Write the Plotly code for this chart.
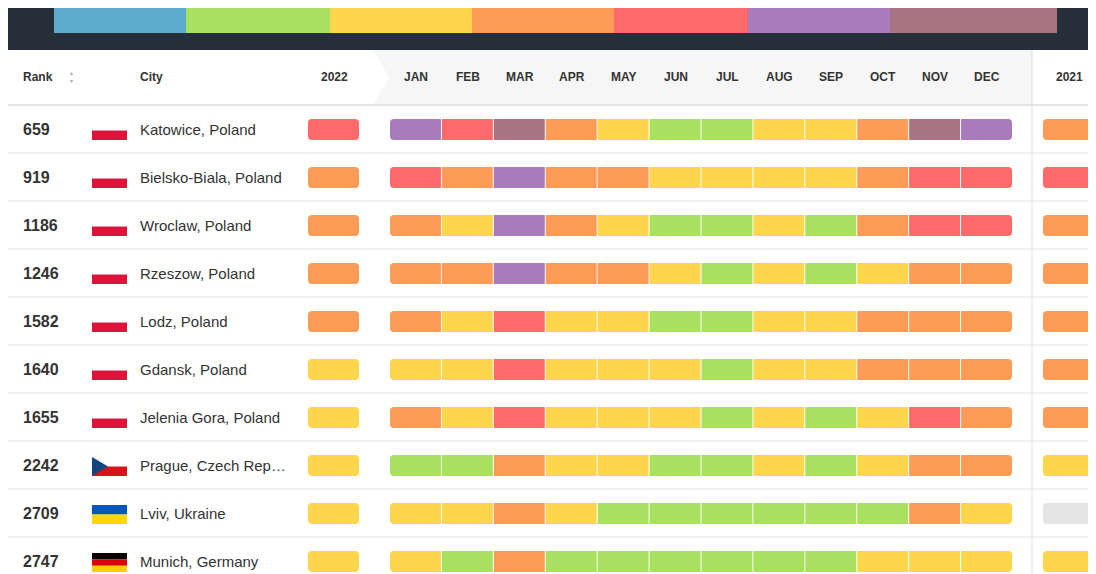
import plotly.graph_objects as go

legend_labels = ['Meets WHO guideline', 'Exceeds by 1 to 2 times', 'Exceeds by 2 to 3 times',
                 'Exceeds by 3 to 5 times', 'Exceeds by 5 to 7 times', 'Exceeds by 7 to 10 times',
                 'Exceeds by over 10 times']
months = ['JAN', 'FEB', 'MAR', 'APR', 'MAY', 'JUN', 'JUL', 'AUG', 'SEP', 'OCT', 'NOV', 'DEC']
ranks = [659, 919, 1186, 1246, 1582, 1640, 1655, 2242, 2709, 2747]
cities = ['Katowice, Poland', 'Bielsko-Biala, Poland', 'Wroclaw, Poland', 'Rzeszow, Poland',
          'Lodz, Poland', 'Gdansk, Poland', 'Jelenia Gora, Poland', 'Prague, Czech Rep…',
          'Lviv, Ukraine', 'Munich, Germany']
flags = ['PL', 'PL', 'PL', 'PL', 'PL', 'PL', 'PL', 'CZ', 'UA', 'DE']
avg_2022 = [25.9, 21.4, 18.7, 18, 15.4, 14.9, 14.8, 11.9, 10.8, 10.7]
avg_2021 = [22.5, 26.4, 19.9, 21.8, 20.2, 16.5, 19.3, 11.3, None, 10.3]
monthly = [
    [35.3, 26.6, 50.8, 21.8, 11.5, 9.4, 7.5, 11.7, 11.1, 24.2, 54.7, 35.2],
    [26, 17.6, 40.6, 21.2, 16.1, 13, 11.8, 13.4, 12.3, 17.2, 32.6, 34.5],
    [24.5, 13.2, 39.2, 16.7, 10.4, 8.9, 7.5, 11, 9.9, 17.1, 34.4, 30.9],
    [24.3, 17.3, 37.2, 19.8, 15.5, 13.1, 8.9, 14.3, 9.6, 11.7, 18.9, 16.2],
    [18.1, 14.6, 25.1, 14.6, 11.5, 9.8, 7.6, 11.8, 10.7, 16.9, 22.3, 21.6],
    [14.2, 11.7, 27.7, 12.3, 11.2, 11.7, 8.2, 12, 10.4, 17, 21.1, 21],
    [17.7, 10.1, 30.2, 13.1, 11.8, 10.4, 8.4, 10.8, 9.8, 13.5, 25.1, 20.8],
    [8.6, 7.1, 20.4, 10.7, 10.8, 9.6, 9.9, 10.1, 7.9, 13.9, 15.8, 17.8],
    [12, 11.7, 19.7, 10.3, 6.7, 7.6, 6.9, 8, 6.8, 9.1, 15.2, 14.8],
    [11, 7.4, 18.8, 9.3, 10, 9.8, 9.7, 10, 7.7, 11.3, 10.3, 13.2],
]

colors = ['#5eaccb', '#a8e05f', '#fdd64b', '#fe9b57', '#fe6a69', '#a97abc', '#a87383']
thresholds = [5, 10, 15, 25, 35, 50]
legend_edges = [46, 178, 322, 464, 606, 740, 882, 1049]
FONT = 'Liberation Sans, Arial'


def color_for(v):
    if v is None:
        return '#e4e4e4'
    for t, c in zip(thresholds, colors):
        if v <= t:
            return c
    return colors[-1]


def fmt(v):
    if v is None:
        return '-'
    return f'{v:g}'


def rpath(x0, x1, y0, y1, rl, rr):
    return (f'M{x0+rl},{y0} L{x1-rr},{y0} Q{x1},{y0} {x1},{y0+rr} L{x1},{y1-rr} '
            f'Q{x1},{y1} {x1-rr},{y1} L{x0+rl},{y1} Q{x0},{y1} {x0},{y1-rl} '
            f'L{x0},{y0+rl} Q{x0},{y0} {x0+rl},{y0} Z')


shapes = []
tx, ty, tt, tc = [], [], [], []

# dark header band and legend
shapes.append(dict(type='rect', x0=0, x1=1096, y0=0, y1=42, fillcolor='#262e3a', line_width=0, layer='below'))
for i, lab in enumerate(legend_labels):
    x0, x1 = legend_edges[i], legend_edges[i + 1]
    shapes.append(dict(type='rect', x0=x0, x1=x1, y0=0, y1=25, fillcolor=colors[i], line_width=0))
    tx.append((x0 + x1) / 2); ty.append(12.5); tt.append(lab)
    tc.append('#3a3a3a' if i < 4 else 'white')

# column header
shapes.append(dict(type='path', path='M365,42 L1024,42 L1024,97 L365,97 L381,69.5 Z',
                   fillcolor='#f6f6f6', line_width=0, layer='below'))
shapes.append(dict(type='line', x0=1024, x1=1024, y0=42, y1=574, line=dict(color='#dddddd', width=1)))
shapes.append(dict(type='line', x0=0, x1=1096, y0=97, y1=97, line=dict(color='#dddddd', width=1.5)))

cell_w = (1005 - 382) / 12
row_h = 48
annotations = []
hdr = dict(showarrow=False, font=dict(family=FONT, size=12, color='#333'), yanchor='middle')
annotations.append(dict(x=13, y=69, text='<b>Rank</b>', xanchor='left', **hdr))
annotations.append(dict(x=63, y=69, text='▴<br>▾', xanchor='center',
                        showarrow=False, font=dict(size=6, color='#aaa')))
annotations.append(dict(x=130, y=69, text='<b>City</b>', xanchor='left', **hdr))
annotations.append(dict(x=326, y=69, text='<b>2022</b>', xanchor='center', **hdr))
annotations.append(dict(x=1061, y=69, text='<b>2021</b>', xanchor='center', **hdr))
for j, m in enumerate(months):
    annotations.append(dict(x=382 + cell_w * (j + 0.5), y=69, text=f'<b>{m}</b>', xanchor='center', **hdr))

for i in range(len(ranks)):
    c = 121 + row_h * i
    if i < len(ranks) - 1:
        shapes.append(dict(type='line', x0=0, x1=1096, y0=c + 24, y1=c + 24,
                           line=dict(color='#e3e3e3', width=1)))
    annotations.append(dict(x=13, y=c, text=f'<b>{ranks[i]}</b>', xanchor='left', showarrow=False,
                            font=dict(family=FONT, size=16, color='#333'), yanchor='middle'))
    annotations.append(dict(x=130, y=c, text=cities[i], xanchor='left', showarrow=False,
                            font=dict(family=FONT, size=15, color='#333'), yanchor='middle'))
    # flag
    fx0, fx1, fy0, fy1 = 84, 119, c - 8, c + 11
    f = flags[i]
    if f == 'PL':
        bands = ['#ffffff', '#dc143c']
    elif f == 'UA':
        bands = ['#0057b7', '#ffd700']
    elif f == 'DE':
        bands = ['#000000', '#dd0000', '#ffce00']
    else:
        bands = ['#ffffff', '#d7141a']
    n = len(bands)
    for k, bc in enumerate(bands):
        shapes.append(dict(type='rect', x0=fx0, x1=fx1, y0=fy0 + (fy1 - fy0) * k / n,
                           y1=fy0 + (fy1 - fy0) * (k + 1) / n, fillcolor=bc, line_width=0))
    if f == 'CZ':
        shapes.append(dict(type='path', path=f'M{fx0},{fy0} L{fx0+16},{(fy0+fy1)/2} L{fx0},{fy1} Z',
                           fillcolor='#11457e', line_width=0))
    # 2022 / 2021 pills
    for xa, v in [(300, avg_2022[i]), (1035, avg_2021[i])]:
        shapes.append(dict(type='path', path=rpath(xa, xa + 51, c - 10, c + 11, 4, 4),
                           fillcolor=color_for(v), line_width=0))
        tx.append(xa + 25.5); ty.append(c + 0.5); tt.append(fmt(v))
        tc.append('white')
    for j, v in enumerate(monthly[i]):
        x0 = 382 + cell_w * j
        x1 = x0 + cell_w - 1
        shapes.append(dict(type='path', path=rpath(x0, x1, c - 10, c + 11,
                                                   4 if j == 0 else 0, 4 if j == 11 else 0),
                           fillcolor=color_for(v), line_width=0))
        tx.append((x0 + x1) / 2); ty.append(c + 0.5); tt.append(fmt(v)); tc.append('white')

fig = go.Figure(go.Scatter(x=tx, y=ty, text=tt, mode='text', textposition='middle center',
                           textfont=dict(family=FONT, size=12, color=tc), hoverinfo='skip'))
fig.update_layout(
    width=1096, height=574, margin=dict(l=0, r=0, t=0, b=0),
    plot_bgcolor='white', paper_bgcolor='white', showlegend=False,
    xaxis=dict(range=[0, 1096], visible=False, fixedrange=True),
    yaxis=dict(range=[574, 0], visible=False, fixedrange=True),
    shapes=shapes, annotations=annotations,
)
fig.write_html('out.html')
